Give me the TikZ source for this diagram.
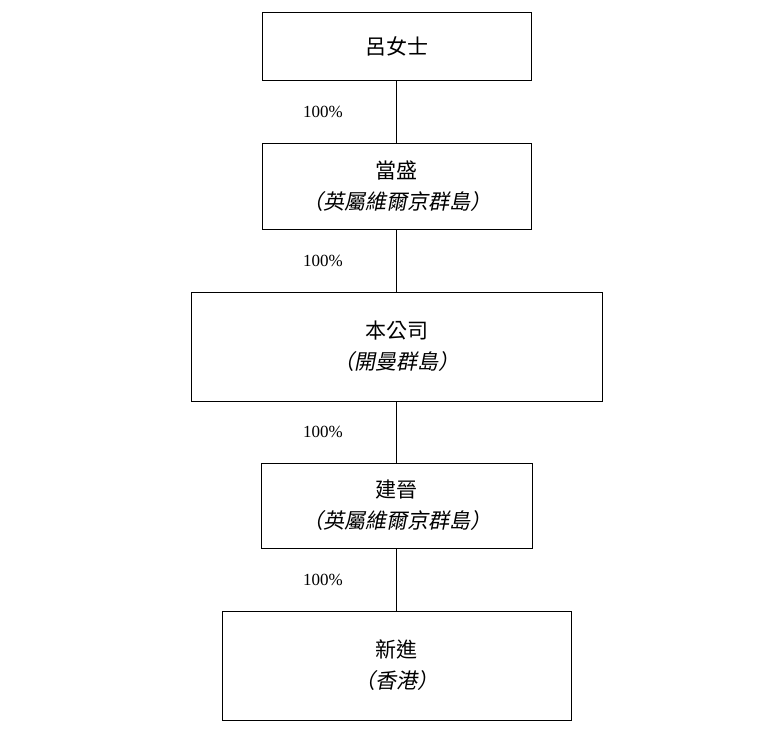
\documentclass[tikz,border=0pt]{standalone}
\usepackage{fontspec}
\setmainfont{Liberation Serif}
\newfontfamily\cjk{Noto Sans CJK TC}
\newfontfamily\cjkslant[FakeSlant=0.2]{Noto Sans CJK TC}
\begin{document}
\begin{tikzpicture}[x=1pt,y=-1pt]
\tikzset{entity/.style={draw,thin,align=center,font=\cjk\fontsize{21}{31}\selectfont,inner sep=0pt},
  pct/.style={font=\fontsize{17}{20}\selectfont}}
\useasboundingbox (0,0) rectangle (763,733);

% Shareholding boxes
\node[entity,minimum width=269,minimum height=68] (lu) at (396.5,46) {呂女士};
\node[entity,minimum width=269,minimum height=86] (dang) at (396.5,186) {當盛\\{\cjkslant（英屬維爾京群島）}};
\node[entity,minimum width=411,minimum height=109] (co) at (396.5,346.5) {本公司\\{\cjkslant（開曼群島）}};
\node[entity,minimum width=271,minimum height=85] (jian) at (396.5,505.5) {建晉\\{\cjkslant（英屬維爾京群島）}};
\node[entity,minimum width=349,minimum height=109] (xin) at (396.5,665.5) {新進\\{\cjkslant（香港）}};

% Ownership lines
\draw (lu) -- (dang);
\draw (dang) -- (co);
\draw (co) -- (jian);
\draw (jian) -- (xin);

% Percentages
\node[pct] at (323,112) {100\%};
\node[pct] at (323,261) {100\%};
\node[pct] at (323,432) {100\%};
\node[pct] at (323,580) {100\%};
\end{tikzpicture}
\end{document}
